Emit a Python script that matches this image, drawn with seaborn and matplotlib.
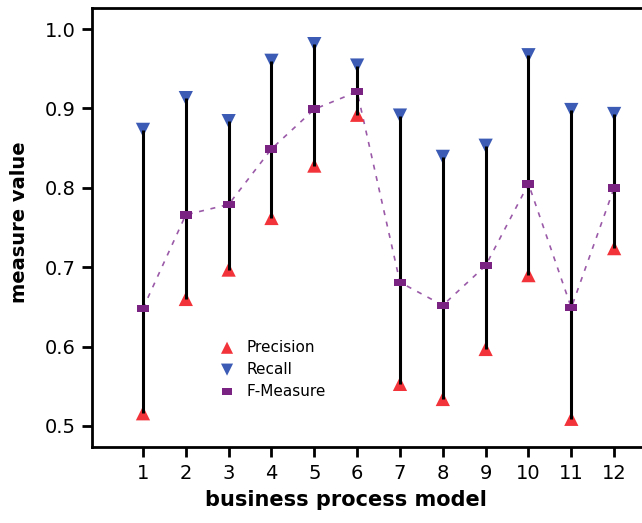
import numpy as np
import pandas as pd
import seaborn as sns
import matplotlib
matplotlib.use("Agg")
import matplotlib.pyplot as plt
from matplotlib.path import Path

sns.set_style("ticks")
plt.rcParams['font.family'] = ['DejaVu Sans']
plt.rcParams['text.color'] = 'black'
plt.rcParams['axes.labelcolor'] = 'black'

# values
models = [1, 2, 3, 4, 5, 6, 7, 8, 9, 10, 11, 12]
precision = [0.516, 0.660, 0.697, 0.762, 0.828, 0.892, 0.553, 0.534, 0.597, 0.690, 0.509, 0.724]
recall = [0.873, 0.913, 0.884, 0.960, 0.981, 0.954, 0.891, 0.839, 0.853, 0.967, 0.898, 0.893]
fmeasure = [0.648, 0.766, 0.779, 0.849, 0.899, 0.921, 0.681, 0.652, 0.702, 0.805, 0.649, 0.800]

df = pd.DataFrame({"model": models, "Precision": precision,
                   "Recall": recall, "F-Measure": fmeasure})

# flat rectangle marker for the F-measure
rect = Path([(-1, -0.62), (1, -0.62), (1, 0.62), (-1, 0.62), (-1, -0.62)],
            [Path.MOVETO, Path.LINETO, Path.LINETO, Path.LINETO, Path.CLOSEPOLY])

fig = plt.figure(figsize=(6.42, 5.23), dpi=100)
axw = 1.02 * 642 - 92
ax = fig.add_axes([92/642, 1 - 447/523, axw/642, (447 - 8)/523])

# range bars between precision and recall
ax.vlines(df["model"], df["Precision"], df["Recall"], color="black", lw=2.2, zorder=4)

# dashed F-measure line
sns.lineplot(data=df, x="model", y="F-Measure", ax=ax, color="#9b5aa8",
             lw=1.2, linestyle=(0, (3, 4)), zorder=2, legend=False)

sns.scatterplot(data=df, x="model", y="Precision", ax=ax, marker="^", s=105,
                color="#f2333a", edgecolor="none", label="Precision", zorder=3)
sns.scatterplot(data=df, x="model", y="Recall", ax=ax, marker="v", s=105,
                color="#3b5bb5", edgecolor="none", label="Recall", zorder=3)
sns.scatterplot(data=df, x="model", y="F-Measure", ax=ax, marker=rect, s=75,
                color="#7b2383", edgecolor="none", label="F-Measure", zorder=5)

ax.set_xlim(-0.19, 12.95)
ax.set_ylim(0.4735, 1.0265)
ax.set_xticks(models)
ax.set_yticks([0.5, 0.6, 0.7, 0.8, 0.9, 1.0])
ax.set_yticklabels(["0.5", "0.6", "0.7", "0.8", "0.9", "1.0"])
ax.tick_params(axis="both", labelsize=14, width=2, length=7, direction="out",
               pad=5, color="black", labelcolor="black")
for sp in ax.spines.values():
    sp.set_linewidth(2)
    sp.set_color("black")

ax.set_xlabel("business process model", fontsize=15, fontweight="bold")
ax.set_ylabel("measure value", fontsize=14, fontweight="bold")
ax.xaxis.set_label_coords((346 - 92) / axw, (447 - 490) / 439)
ax.yaxis.set_label_coords((29 - 92) / axw, (447 - 222) / 439)

leg = ax.legend(loc="upper left", bbox_to_anchor=(198/642, 1 - 326/523),
                bbox_transform=fig.transFigure, frameon=False, fontsize=11,
                handletextpad=0.3, labelspacing=0.45, markerscale=0.85)

fig.savefig("out.png", dpi=100)
